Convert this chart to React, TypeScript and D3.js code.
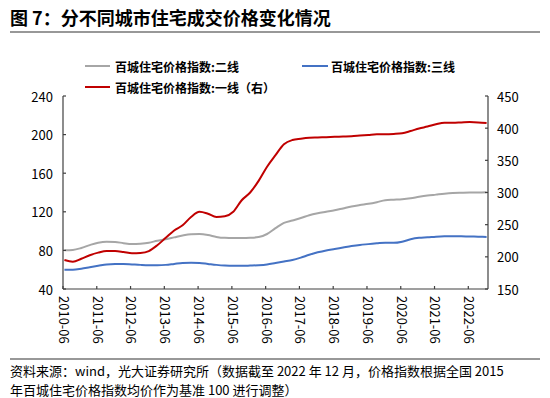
import React from "react";
import * as d3 from "d3";

const dates = [
  "2010-06","2010-09","2010-12","2011-03","2011-06","2011-09","2011-12","2012-03","2012-06","2012-09",
  "2012-12","2013-03","2013-06","2013-09","2013-12","2014-03","2014-06","2014-09","2014-12","2015-03",
  "2015-06","2015-09","2015-12","2016-03","2016-06","2016-09","2016-12","2017-03","2017-06","2017-09",
  "2017-12","2018-03","2018-06","2018-09","2018-12","2019-03","2019-06","2019-09","2019-12","2020-03",
  "2020-06","2020-09","2020-12","2021-03","2021-06","2021-09","2021-12","2022-03","2022-06","2022-09",
  "2022-12",
];

// 百城住宅价格指数:二线 (left axis)
const tier2 = [
  80.2, 80.5, 82.5, 85.5, 88, 89, 88.8, 87.5, 86.6, 87,
  88, 90, 91.5, 93.5, 95.5, 96.8, 97, 96, 94, 93,
  92.8, 92.8, 93, 93.8, 97, 103, 108.5, 111, 113.5, 116.5,
  118.5, 120, 121.5, 123.5, 125.5, 127, 128.3, 130, 132, 132.5,
  133, 134, 135.5, 136.8, 137.8, 138.8, 139.5, 139.8, 140, 140,
  140.3,
];

// 百城住宅价格指数:三线 (left axis)
const tier3 = [
  60, 60, 61, 62.5, 64, 65.5, 66, 66, 65.5, 65,
  64.7, 64.7, 65, 66, 67, 67.3, 67, 66, 65, 64.3,
  64, 64, 64.3, 64.7, 65.5, 67, 68.5, 70, 72.5, 75.5,
  78, 80, 81.5, 83, 84.5, 85.7, 86.5, 87.3, 88, 87.8,
  89, 91.5, 93, 93.5, 94.2, 94.6, 94.7, 94.6, 94.4, 94.2,
  94,
];

// 百城住宅价格指数:一线（右） (right axis)
const tier1 = [
  195, 192.5, 197, 202.5, 206.5, 209, 209, 207.5, 205.5, 206,
  209, 218, 229.5, 241, 249, 262, 270, 267, 262, 263,
  270, 288, 300, 318, 340, 358, 375, 381.5, 383.5, 385,
  385.5, 386, 386.5, 387, 387.5, 388.5, 389.5, 390.5, 390.5, 391,
  392, 395.5, 399.5, 402.5, 406, 408.5, 408.5, 409, 409.5, 409,
  408,
];

const xTickLabels = [
  "2010-06","2011-06","2012-06","2013-06","2014-06","2015-06","2016-06",
  "2017-06","2018-06","2019-06","2020-06","2021-06","2022-06",
];
const leftTicks = [40, 80, 120, 160, 200, 240];
const rightTicks = [150, 200, 250, 300, 350, 400, 450];

const seriesNames = ["百城住宅价格指数:二线", "百城住宅价格指数:三线", "百城住宅价格指数:一线（右）"];
const colors = ["#A6A6A6", "#4472C4", "#C00000"];

const FONT = "'Noto Sans CJK SC', 'Noto Sans', sans-serif";

function monthIndex(s: string) {
  const [y, m] = s.split("-").map(Number);
  return (y - 2010) * 12 + (m - 6);
}

export default function App() {
  const W = 550, H = 398;
  const left = 63, right = 488, top = 96, bottom = 289;
  const x = d3.scaleLinear().domain([0, 151]).range([left, right]);
  const yL = d3.scaleLinear().domain([40, 240]).range([bottom, top]);
  const yR = d3.scaleLinear().domain([150, 450]).range([bottom, top]);

  const mkLine = (vals: number[], y: d3.ScaleLinear<number, number>) =>
    d3.line<number>()
      .x((_, i) => x(monthIndex(dates[i]) + 0.5))
      .y((v) => y(v))
      .curve(d3.curveMonotoneX)(vals) || "";

  const axisColor = "#404040";

  return (
    <svg width={W} height={H} style={{ position: "absolute", left: 0, top: 0, background: "#fff" }} fontFamily={FONT}>
      <text x={10} y={25} fontSize={18} fontWeight="bold" fill="#000">图 7：分不同城市住宅成交价格变化情况</text>
      <line x1={10} x2={540} y1={32} y2={32} stroke="#333" strokeWidth={1.2} />

      {/* legend */}
      <g fontSize={12} fontWeight="bold" fill="#000">
        <line x1={85} x2={110} y1={66} y2={66} stroke={colors[0]} strokeWidth={2} />
        <text x={115} y={66} dominantBaseline="central">{seriesNames[0]}</text>
        <line x1={302} x2={328} y1={66} y2={66} stroke={colors[1]} strokeWidth={2} />
        <text x={331} y={66} dominantBaseline="central">{seriesNames[1]}</text>
        <line x1={85} x2={110} y1={87} y2={87} stroke={colors[2]} strokeWidth={2} />
        <text x={115} y={87} dominantBaseline="central">{seriesNames[2]}</text>
      </g>

      {/* series */}
      <path d={mkLine(tier2, yL)} fill="none" stroke={colors[0]} strokeWidth={2} />
      <path d={mkLine(tier3, yL)} fill="none" stroke={colors[1]} strokeWidth={2} />
      <path d={mkLine(tier1, yR)} fill="none" stroke={colors[2]} strokeWidth={2} />

      {/* axes */}
      <g stroke={axisColor} strokeWidth={1.2}>
        <line x1={left} x2={left} y1={top} y2={bottom} />
        <line x1={right} x2={right} y1={top} y2={bottom} />
        <line x1={left} x2={right} y1={bottom} y2={bottom} />
        {leftTicks.map((t) => (
          <line key={"lt" + t} x1={left} x2={left + 3} y1={yL(t)} y2={yL(t)} />
        ))}
        {rightTicks.map((t) => (
          <line key={"rt" + t} x1={right - 3} x2={right} y1={yR(t)} y2={yR(t)} />
        ))}
        {xTickLabels.map((l) => (
          <line key={"xt" + l} x1={x(monthIndex(l))} x2={x(monthIndex(l))} y1={bottom} y2={bottom - 3} />
        ))}
      </g>
      <g fontSize={13} fill="#000">
        {leftTicks.map((t) => (
          <text key={"ll" + t} x={53} y={yL(t)} textAnchor="end" dominantBaseline="central">{t}</text>
        ))}
        {rightTicks.map((t) => (
          <text key={"rl" + t} x={497} y={yR(t)} dominantBaseline="central">{t}</text>
        ))}
        {xTickLabels.map((l) => {
          const cx = x(monthIndex(l) + 0.5);
          return (
            <text key={"xl" + l} transform={`translate(${cx},${bottom + 7}) rotate(90)`} dominantBaseline="central">{l}</text>
          );
        })}
      </g>

      <line x1={10} x2={540} y1={359} y2={359} stroke="#333" strokeWidth={1.2} />
      <g fontSize={13} fill="#000">
        <text x={10} y={370} dominantBaseline="central">资料来源：wind，光大证券研究所（数据截至 2022 年 12 月，价格指数根据全国 2015</text>
        <text x={10} y={389} dominantBaseline="central">年百城住宅价格指数均价作为基准 100 进行调整）</text>
      </g>
    </svg>
  );
}
